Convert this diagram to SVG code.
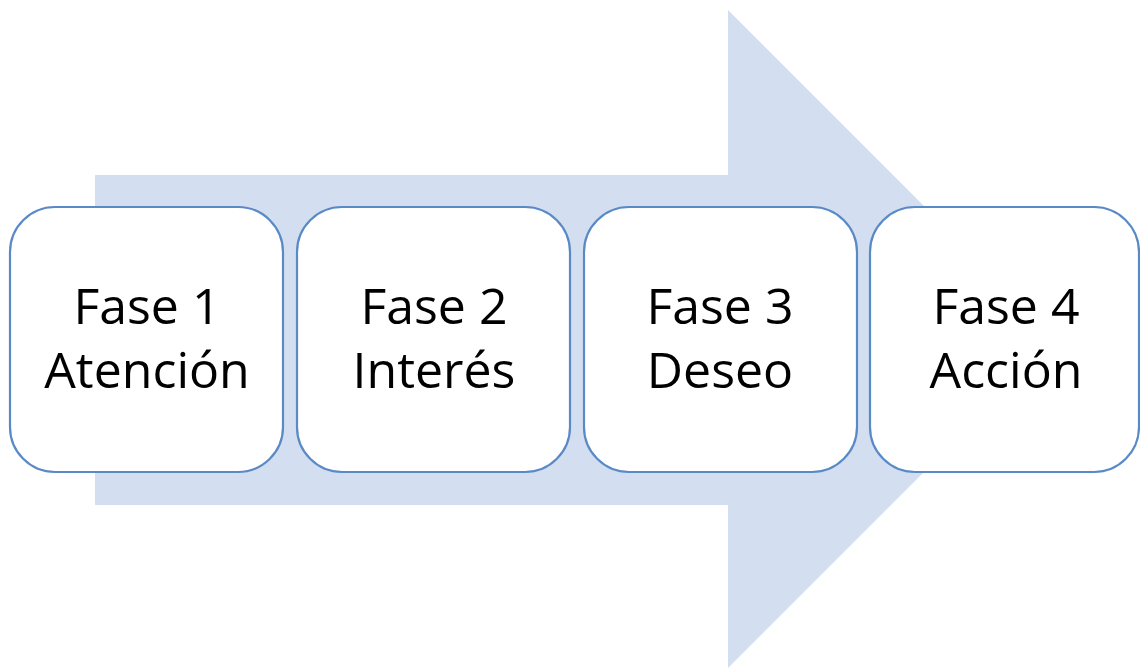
<svg xmlns="http://www.w3.org/2000/svg" width="1140" height="669" viewBox="0 0 1140 669">
<style>
.box{fill:#ffffff;stroke:#5a8ac6;stroke-width:2.2}
.t{font-family:"Open Sans","Noto Sans","Liberation Sans",sans-serif;font-size:50px;fill:#000;text-anchor:middle}
</style>
<rect width="1140" height="669" fill="#ffffff"/>
<g id="arrow">
<polygon points="95,175 728,175 728,10 1057,339 728,668 728,505 95,505" fill="#d3dff0"/>
</g>
<g id="connectors"></g>
<g id="n1">
<rect class="box" x="10" y="207" width="273" height="265" rx="45" ry="45"/>
<text class="t" x="147" y="324">Fase 1</text>
<text class="t" x="147" y="388">Atención</text>
</g>
<g id="n2">
<rect class="box" x="297" y="207" width="273" height="265" rx="45" ry="45"/>
<text class="t" x="434" y="324">Fase 2</text>
<text class="t" x="434" y="388">Interés</text>
</g>
<g id="n3">
<rect class="box" x="584" y="207" width="273" height="265" rx="45" ry="45"/>
<text class="t" x="720" y="324">Fase 3</text>
<text class="t" x="720" y="388">Deseo</text>
</g>
<g id="n4">
<rect class="box" x="870" y="207" width="269" height="265" rx="45" ry="45"/>
<text class="t" x="1006" y="324">Fase 4</text>
<text class="t" x="1006" y="388">Acción</text>
</g>
</svg>
